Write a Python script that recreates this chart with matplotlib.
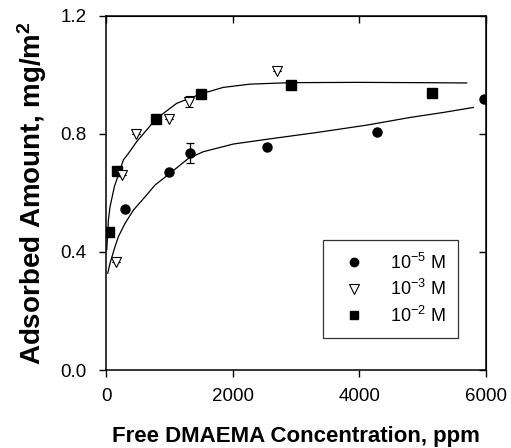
import matplotlib
matplotlib.use("Agg")
import matplotlib.pyplot as plt
from matplotlib.lines import Line2D

plt.rcParams['font.family'] = ['Liberation Sans', 'DejaVu Sans']
plt.rcParams['mathtext.fontset'] = 'custom'
plt.rcParams['mathtext.rm'] = 'Liberation Sans'
plt.rcParams['mathtext.it'] = 'Liberation Sans'
plt.rcParams['mathtext.bf'] = 'Liberation Sans:bold'
plt.rcParams['mathtext.default'] = 'regular'

# 10^-5 M (circles)
x_c = [295, 1000, 1326, 2542, 4284, 5973]
y_c = [0.545, 0.670, 0.737, 0.757, 0.806, 0.918]
e_c = [0, 0, 0.034, 0, 0, 0]

# 10^-3 M (triangles)
x_t = [158, 253, 474, 995, 1316, 2695]
y_t = [0.365, 0.661, 0.800, 0.850, 0.910, 1.015]
e_t = [0, 0, 0, 0, 0.019, 0]

# 10^-2 M (squares)
x_s = [53, 179, 789, 1500, 2921, 5147]
y_s = [0.467, 0.673, 0.851, 0.936, 0.967, 0.940]

# fitted curves
x_up = [11, 27, 37, 63, 131, 221, 274, 353, 484, 789, 1116, 1500, 1853, 2274, 2905, 3958, 5010, 5695]
y_up = [0.407, 0.463, 0.508, 0.553, 0.621, 0.678, 0.712, 0.734, 0.774, 0.851, 0.904, 0.936, 0.958, 0.969, 0.974, 0.975, 0.974, 0.973]
x_lo = [27, 63, 142, 195, 300, 432, 616, 774, 1011, 1300, 1537, 2011, 2537, 3326, 4116, 4800, 5326, 5800]
y_lo = [0.328, 0.362, 0.418, 0.452, 0.497, 0.542, 0.587, 0.627, 0.667, 0.717, 0.740, 0.766, 0.782, 0.805, 0.830, 0.856, 0.873, 0.890]

labels = [r'10$^{-5}$ M', r'10$^{-3}$ M', r'10$^{-2}$ M']
x_ticks = [0, 2000, 4000, 6000]
y_ticks = [0.0, 0.4, 0.8, 1.2]
y_ticklabels = ['0.0', '0.4', '0.8', '1.2']

fig = plt.figure(figsize=(5.11, 4.48), dpi=100)
ax = fig.add_axes([0.2075, 0.1741, 0.7435, 0.7902])

ax.plot(x_up, y_up, color='black', lw=0.9)
ax.plot(x_lo, y_lo, color='black', lw=0.9)

ax.errorbar(x_c, y_c, yerr=e_c, fmt='o', color='black', ms=6.5, capsize=3,
            elinewidth=0.9, capthick=0.9, zorder=3)
ax.errorbar(x_t, y_t, yerr=e_t, fmt='v', mfc='white', mec='black', color='black',
            ms=7, mew=0.8, capsize=3, elinewidth=0.9, capthick=0.9, zorder=3)
ax.plot(x_s, y_s, 's', color='black', ms=6.5, zorder=3)

ax.set_xlim(0, 6000)
ax.set_ylim(0, 1.2)
ax.set_xticks(x_ticks)
ax.set_yticks(y_ticks)
ax.set_yticklabels(y_ticklabels)

for s in ax.spines.values():
    s.set_linewidth(1.1)

ax.tick_params(axis='x', labelsize=13.5, width=1.0, length=5,
               direction='out', pad=8, top=False)
ax.tick_params(axis='y', labelsize=13.5, width=1.0, length=5,
               direction='out', pad=9, right=False)
axt = ax.secondary_xaxis('top')
axt.set_xticks(x_ticks)
axt.tick_params(direction='in', length=5, width=1.0, labeltop=False)
axr = ax.secondary_yaxis('right')
axr.set_yticks(y_ticks)
axr.tick_params(direction='in', length=5, width=1.0, labelright=False)

ax.set_xlabel('Free DMAEMA Concentration, ppm', fontsize=16, fontweight='bold', labelpad=15)
ax.set_ylabel(r'Adsorbed Amount, mg/m$^\mathbf{2}$', fontsize=20, fontweight='bold', labelpad=8)

handles = [
    Line2D([], [], ls='none', marker='o', color='black', ms=6),
    Line2D([], [], ls='none', marker='v', mfc='white', mec='black', ms=6.5, mew=0.8),
    Line2D([], [], ls='none', marker='s', color='black', ms=6),
]
leg = ax.legend(handles, labels, loc='lower left', bbox_to_anchor=(0.571, 0.09, 0.355, 0.27),
                mode='expand', frameon=True, fancybox=False, fontsize=13,
                handletextpad=1.0, borderpad=0.7, labelspacing=0.35, handlelength=2.0,
                borderaxespad=0)
leg.get_frame().set_edgecolor('black')
leg.get_frame().set_linewidth(0.9)

fig.savefig('out.png', dpi=100)
